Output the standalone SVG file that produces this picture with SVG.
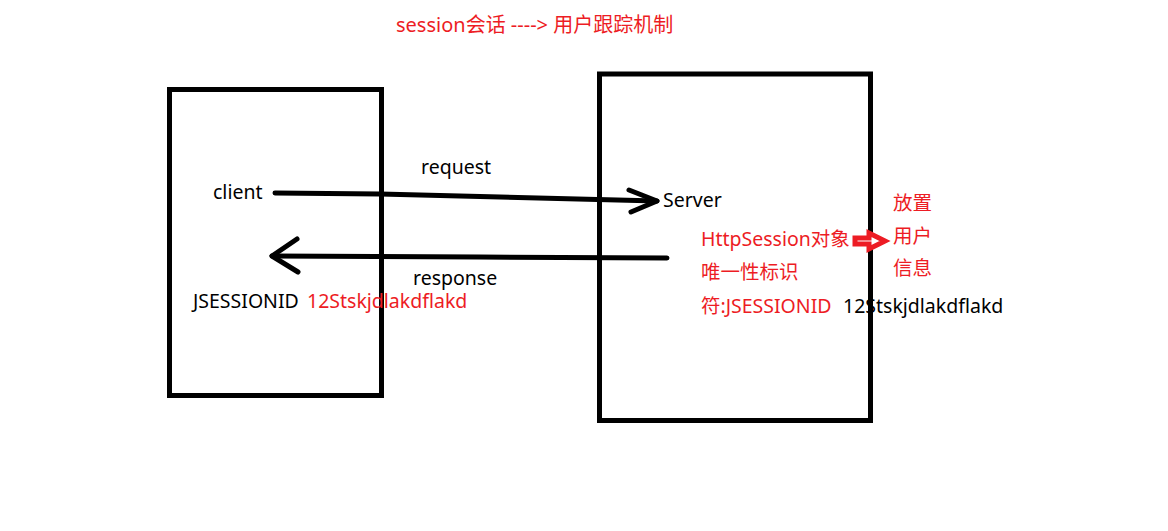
<svg xmlns="http://www.w3.org/2000/svg" width="1168" height="531" viewBox="0 0 1168 531">
<style>
text{font-family:"Noto Sans","Noto Sans CJK SC",sans-serif;font-size:19.5px;fill:#000}
.r{fill:#ed1c24}
.box{fill:none;stroke:#000;stroke-width:5}
.ln{fill:none;stroke:#000;stroke-width:5;stroke-linecap:round;stroke-linejoin:round}
</style>
<rect width="1168" height="531" fill="#fff"/>
<text id="title" class="r" x="396" y="32" style="font-size:20px">session会话 ----&gt; 用户跟踪机制</text>
<g id="client">
<rect class="box" x="169.5" y="89.5" width="212" height="306"/>
<text x="213" y="199">client</text>
<text x="193" y="308">JSESSIONID <tspan class="r" x="307">12Stskjdlakdflakd</tspan></text>
</g>
<g id="server">
<rect class="box" x="599.5" y="74" width="271" height="346.5"/>
<text x="663" y="207">Server</text>
<text class="r" x="701" y="246">HttpSession对象</text>
<text class="r" x="701" y="279">唯一性标识</text>
<text class="r" x="701" y="313">符:JSESSIONID</text>
<text x="843" y="313">12Stskjdlakdflakd</text>
</g>
<g id="userinfo">
<text class="r" x="893" y="210">放置</text>
<text class="r" x="893" y="243">用户</text>
<text class="r" x="893" y="275">信息</text>
</g>
<g id="connectors">
<path class="ln" d="M275 193 L380 194 L500 197 L657 201"/>
<path class="ln" d="M629 190 L657 201 L631 212"/>
<text x="421" y="174">request</text>
<path class="ln" d="M667 258 L480 257 L272 256"/>
<path class="ln" d="M297 239 L272 256 L298 272"/>
<text x="413" y="285">response</text>
<path d="M855 238 H869 V233 L885 241 L869 249 V244 H855 Z" fill="#fff" stroke="#ed1c24" stroke-width="5" stroke-linejoin="miter"/>
</g>
</svg>
